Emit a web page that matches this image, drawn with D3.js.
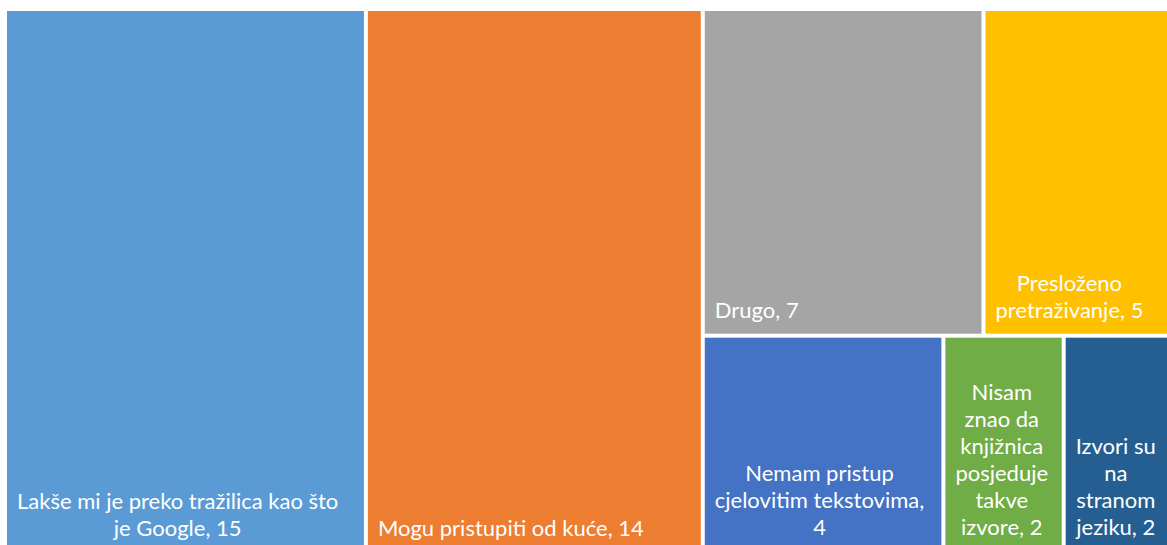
<!DOCTYPE html>
<html>
<head>
<meta charset="utf-8">
<script src="https://cdn.jsdelivr.net/npm/d3@7"></script>
<style>
  body { margin: 0; background: #fff; }
  svg { display: block; }
</style>
</head>
<body>
<div id="chart"></div>
<script>
const categories = [
  'Lakše mi je preko tražilica kao što je Google',
  'Mogu pristupiti od kuće',
  'Drugo',
  'Presloženo pretraživanje',
  'Nemam pristup cjelovitim tekstovima',
  'Nisam znao da knjižnica posjeduje takve izvore',
  'Izvori su na stranom jeziku',
];
const values = [15, 14, 7, 5, 4, 2, 2];
const colors = ['#5B9BD5', '#ED7D31', '#A5A5A5', '#FFC000', '#4472C4', '#70AD47', '#255E91'];

function createTreemap() {
  const width = 1167;
  const height = 545;
  const margin = { top: 11, left: 7 };
  const pad = 10;
  const lineHeight = 27;

  const svg = d3
    .select('#chart')
    .append('svg')
    .attr('width', width)
    .attr('height', height);

  const rows = categories.map((name, i) => ({ name, value: values[i], color: colors[i] }));

  const root = d3
    .hierarchy({ children: rows })
    .sum((d) => d.value || 0)
    .sort((a, b) => b.value - a.value);

  // plot area runs past the right and bottom edge of the picture
  d3.treemap()
    .tile(d3.treemapSquarify.ratio(1))
    .size([1175, 540.5])
    .paddingInner(4)(root);

  const g = svg.append('g').attr('transform', `translate(${margin.left}, ${margin.top})`);

  const cell = g
    .selectAll('g')
    .data(root.leaves())
    .join('g')
    .attr('transform', (d) => `translate(${d.x0}, ${d.y0})`);

  cell
    .append('rect')
    .attr('width', (d) => d.x1 - d.x0)
    .attr('height', (d) => d.y1 - d.y0)
    .attr('fill', (d) => d.data.color);

  // labels: wrapped, anchored to bottom of each cell
  cell.each(function (d) {
    const w = d.x1 - d.x0;
    const h = d.y1 - d.y0;
    const maxW = w - 2 * pad + 4;
    const text = d3
      .select(this)
      .append('text')
      .attr('fill', '#fff')
      .style('font-family', 'Lato, "Open Sans", sans-serif')
      .style('font-size', '22px');

    const words = (d.data.name + ', ' + d.data.value).split(' ');
    const probe = text.append('tspan');
    const lines = [];
    let line = [];
    words.forEach((word) => {
      line.push(word);
      probe.text(line.join(' '));
      if (probe.node().getComputedTextLength() > maxW && line.length > 1) {
        line.pop();
        lines.push(line.join(' '));
        line = [word];
      }
    });
    lines.push(line.join(' '));

    // widest line sets the block, lines centred inside it
    const widths = lines.map((l) => {
      probe.text(l);
      return probe.node().getComputedTextLength();
    });
    probe.remove();
    const blockW = d3.max(widths);
    const cx = pad + blockW / 2;

    lines.forEach((l, i) => {
      text
        .append('tspan')
        .attr('x', cx)
        .attr('y', h - 16 - (lines.length - 1 - i) * lineHeight)
        .attr('text-anchor', 'middle')
        .text(l);
    });
  });
}

createTreemap();
</script>
</body>
</html>
